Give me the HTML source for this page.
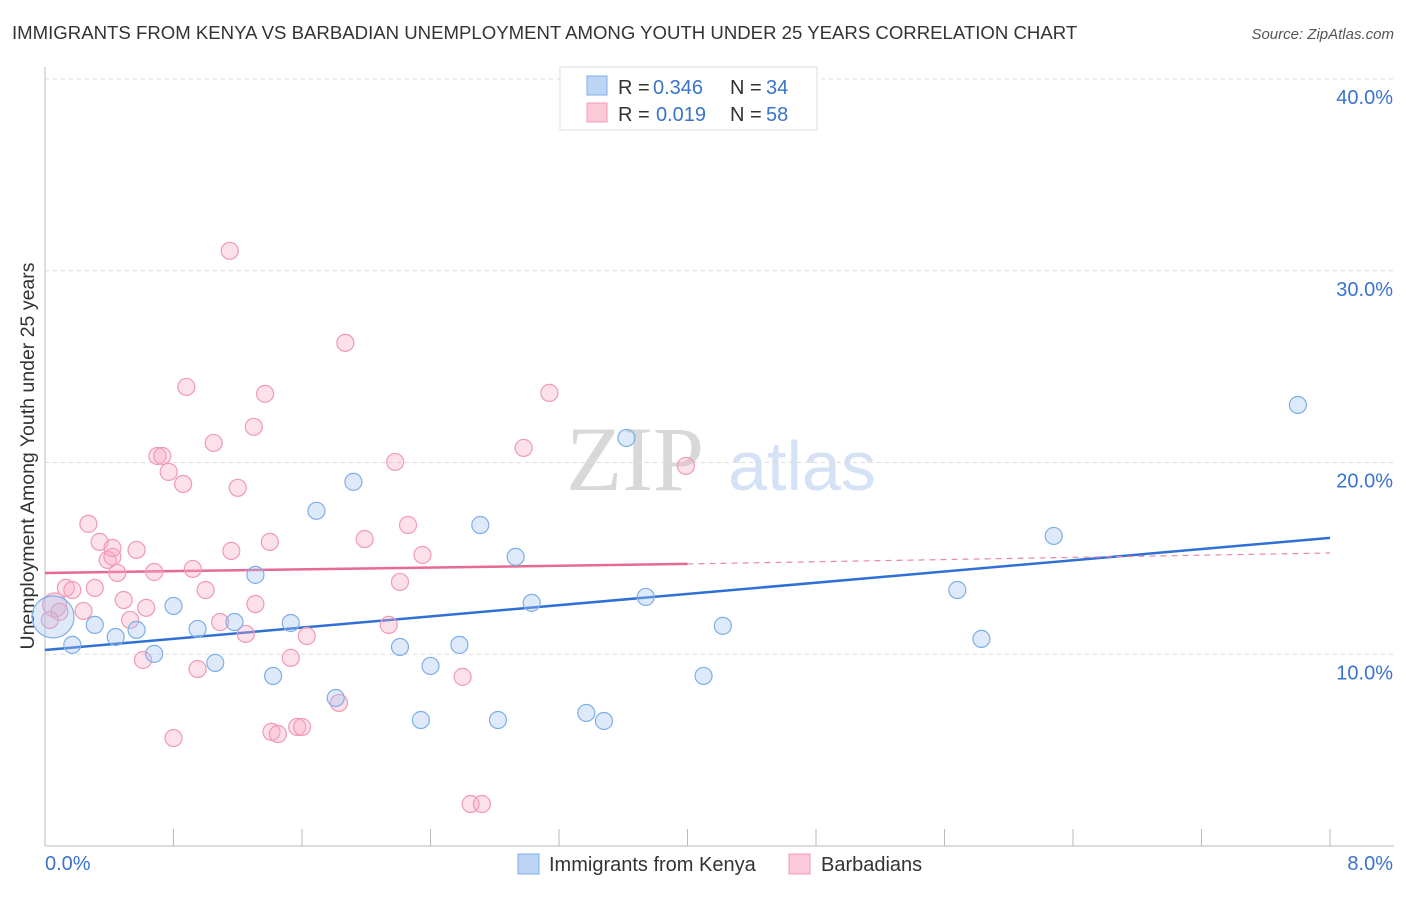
<!DOCTYPE html>
<html><head><meta charset="utf-8"><style>
body{margin:0;background:#fff;font-family:"Liberation Sans",sans-serif;}
</style></head><body>
<svg id="chart" width="1406" height="892" xmlns="http://www.w3.org/2000/svg" font-family="Liberation Sans, sans-serif">
<text x="12" y="39" font-size="18.6" fill="#333">IMMIGRANTS FROM KENYA VS BARBADIAN UNEMPLOYMENT AMONG YOUTH UNDER 25 YEARS CORRELATION CHART</text>
<text x="1394" y="39" font-size="15" fill="#555" font-style="italic" text-anchor="end">Source: ZipAtlas.com</text>
<text transform="translate(34,456) rotate(-90)" font-size="19.5" fill="#333" text-anchor="middle">Unemployment Among Youth under 25 years</text>
<g>
<text x="635" y="490" font-size="92" fill="#d8d8d8" font-family="Liberation Serif, serif" text-anchor="middle">ZIP</text>
<text x="802" y="490" font-size="70" fill="#d5e2f5" text-anchor="middle">atlas</text>
</g>
<g id="grid"></g><g id="axes"></g><g id="lines"></g><g id="pts"></g>
<g>
<rect x="560" y="67" width="257" height="63" fill="#fff" stroke="#ddd"/>
<rect x="587" y="76" width="20" height="19" fill="#bcd5f5" stroke="#7eaee8"/>
<rect x="587" y="103" width="20" height="19" fill="#fbc9d8" stroke="#f09ab5"/>
<text x="618" y="94" font-size="20" fill="#333">R =</text>
<text x="653" y="94" font-size="20" fill="#3a73cc">0.346</text>
<text x="730" y="94" font-size="20" fill="#333">N =</text>
<text x="766" y="94" font-size="20" fill="#3a73cc">34</text>
<text x="618" y="121" font-size="20" fill="#333">R =</text>
<text x="656" y="121" font-size="20" fill="#3a73cc">0.019</text>
<text x="730" y="121" font-size="20" fill="#333">N =</text>
<text x="766" y="121" font-size="20" fill="#3a73cc">58</text>
</g>
<g>
<rect x="518" y="854" width="21" height="20" fill="#bcd5f5" stroke="#7eaee8"/>
<text x="549" y="871" font-size="20" fill="#333">Immigrants from Kenya</text>
<rect x="789" y="854" width="21" height="20" fill="#fbc9d8" stroke="#f09ab5"/>
<text x="821" y="871" font-size="20" fill="#333">Barbadians</text>
</g>
</svg>
<script>
const yTicks=[10,20,30,40];
const yTickLabels=["10.0%","20.0%","30.0%","40.0%"];
const xTickLabels=["0.0%","8.0%"];
const kenyaX=[0.05,0.17,0.31,0.44,0.57,0.68,0.80,0.95,1.06,1.18,1.31,1.42,1.53,1.69,1.81,1.92,2.21,2.34,2.40,2.58,2.71,2.82,2.93,3.03,3.37,3.48,3.62,3.74,4.10,4.22,5.68,5.83,6.28,7.80];
const kenyaY=[11.95,10.49,11.53,10.90,11.27,10.02,12.52,11.32,9.55,11.68,14.14,8.87,11.63,17.48,7.72,18.99,10.38,6.57,9.39,10.49,16.74,6.57,15.08,12.68,6.94,6.52,21.28,12.99,8.87,11.48,13.35,10.80,16.17,23.00];
const barbX=[0.06,0.09,0.13,0.24,0.27,0.34,0.39,0.42,0.45,0.31,0.17,0.49,0.53,0.57,0.61,0.63,0.68,0.70,0.73,0.77,0.80,0.86,0.88,0.92,0.95,1.00,1.05,1.09,1.15,1.16,1.20,1.25,1.30,1.31,1.37,1.40,1.41,1.45,1.53,1.57,1.60,1.63,1.83,1.87,1.99,2.14,2.18,2.21,2.26,2.35,2.60,2.65,2.72,2.98,3.14,3.99,0.03,0.42];
const barbY=[12.57,12.21,13.46,12.26,16.80,15.86,14.92,15.08,14.24,13.46,13.35,12.83,11.79,15.44,9.70,12.42,14.29,20.34,20.34,19.51,5.63,18.88,23.94,14.45,9.23,13.35,21.02,11.68,31.04,15.39,18.68,11.06,21.86,12.62,23.58,15.86,5.95,5.84,9.81,6.21,6.21,10.95,7.46,26.24,16.01,11.53,20.03,13.77,16.74,15.18,8.82,2.19,2.19,20.76,23.63,19.82,11.79,15.54];
const kenyaTrend=[10.22,16.07];
const barbTrend=[14.24,14.71,15.28];
const barbSolidEnd=4.0;

const X=v=>45+v*(1285/8), Y=v=>846-v*(767/40);
const NS="http://www.w3.org/2000/svg";
function mk(t,a,p){const e=document.createElementNS(NS,t);for(const k in a)e.setAttribute(k,a[k]);p.appendChild(e);return e;}
const grid=document.getElementById('grid'),axes=document.getElementById('axes'),lines=document.getElementById('lines'),pts=document.getElementById('pts');
yTicks.forEach((t,i)=>{
 const l=mk('line',{x1:45,x2:1394,y1:Y(t),y2:Y(t),stroke:'#ddd','stroke-dasharray':'4,4'},grid);
 
 
 const tx=mk('text',{x:1393,y:Y(t)+25,'font-size':20,fill:'#3a73cc','text-anchor':'end'},axes);
 tx.textContent=yTickLabels[i];
 
 
});
const ax=mk('line',{x1:45,x2:45,y1:67,y2:846,stroke:'#bbb'},axes);


const bx=mk('line',{x1:45,x2:1394,y1:846,y2:846,stroke:'#bbb'},axes);


for(let i=1;i<=10;i++){const x=45+i*128.5;const t=mk('line',{x1:x,x2:x,y1:829,y2:846,stroke:'#bbb'},axes);
 
 }
[[0,'start',45],[8,'end',1393]].forEach((d,i)=>{const t=mk('text',{x:d[2],y:870,'font-size':20,fill:'#3a73cc','text-anchor':d[1]},axes);t.textContent=xTickLabels[i];
 
 });
function drawPts(xs,ys,fill,stroke,name){xs.forEach((x,i)=>{const r=(i===0)?(name==='kenya-point'?21:12):8.5;
 const c=mk('circle',{cx:X(x),cy:Y(ys[i]),r:r,fill:fill,stroke:stroke,'stroke-width':1.2},pts);
 
 });}
drawPts(barbX,barbY,'rgba(248,170,195,0.35)','#f09ab5','barbadian-point');
drawPts(kenyaX,kenyaY,'rgba(160,195,240,0.35)','#7eaee8','kenya-point');
const kl=mk('line',{x1:X(0),y1:Y(kenyaTrend[0]),x2:X(8),y2:Y(kenyaTrend[1]),stroke:'#2f6fd6','stroke-width':2.5},lines);


const pl=mk('line',{x1:X(0),y1:Y(barbTrend[0]),x2:X(barbSolidEnd),y2:Y(barbTrend[1]),stroke:'#e66a92','stroke-width':2.5},lines);


const pd=mk('line',{x1:X(barbSolidEnd),y1:Y(barbTrend[1]),x2:X(8),y2:Y(barbTrend[2]),stroke:'#e88aa8','stroke-width':1.2,'stroke-dasharray':'6,5'},lines);


</script>
</body></html>
